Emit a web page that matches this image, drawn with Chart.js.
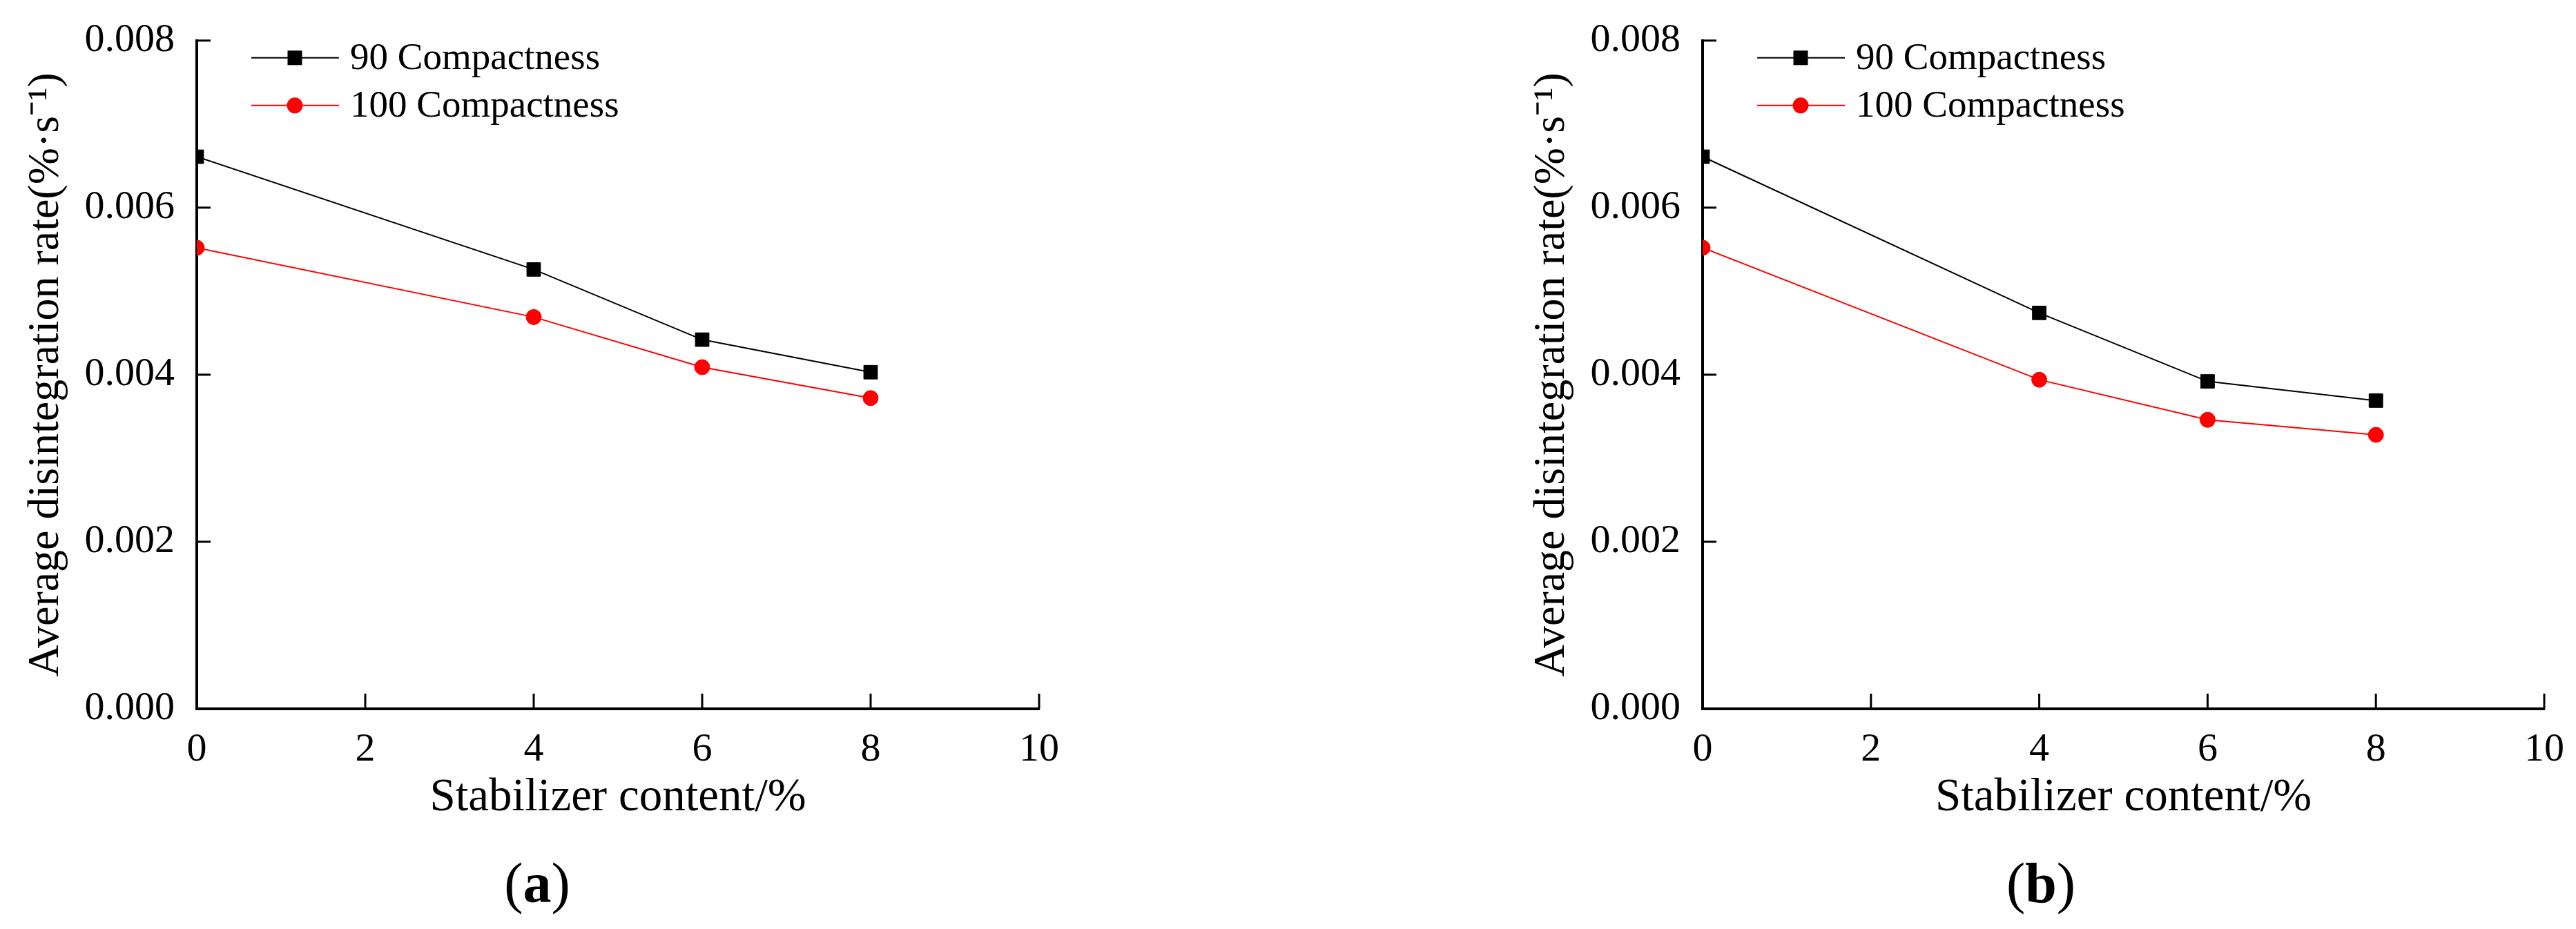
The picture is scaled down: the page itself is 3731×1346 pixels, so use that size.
<!DOCTYPE html>
<html>
<head>
<meta charset="utf-8">
<script src="https://cdn.jsdelivr.net/npm/chart.js@4.4.0/dist/chart.umd.min.js"></script>
<style>
  html, body { margin: 0; padding: 0; background: #fff; }
  body { width: 3731px; height: 1346px; position: relative; overflow: hidden; }
  .panel { position: absolute; top: 0; }
  .tag {
    position: absolute; top: 1230px; font-family: "Liberation Serif", serif;
    font-size: 82px; line-height: 100px; color: #000; transform: translateX(-50%);
  }
</style>
</head>
<body>
<div class="panel" style="left:0px"><canvas id="chartA" width="1865" height="1346"></canvas></div>
<div class="panel" style="left:1865px"><canvas id="chartB" width="1866" height="1346"></canvas></div>
<div class="tag" style="left:778px">(<b>a</b>)</div>
<div class="tag" style="left:2956px">(<b>b</b>)</div>
<script>
// data
const content = [0, 4, 6, 8];
const a90 = [0.00661, 0.00526, 0.00442, 0.00403];
const a100 = [0.00552, 0.00469, 0.00409, 0.00372];
const b90 = [0.00661, 0.00474, 0.00392, 0.00369];
const b100 = [0.00552, 0.00394, 0.00346, 0.00328];
const xTicks = [0, 2, 4, 6, 8, 10];
const yTicks = [0, 0.002, 0.004, 0.006, 0.008];
const seriesNames = ["90 Compactness", "100 Compactness"];

const FONT = "Liberation Serif";

// inward tick marks
const tickPlugin = {
    id: 'inTicks',
    afterDraw(chart) {
        const ctx = chart.ctx;
        const area = chart.chartArea;
        ctx.save();
        ctx.strokeStyle = '#000';
        ctx.lineWidth = 3;
        chart.scales.x.ticks.forEach(t => {
            const px = chart.scales.x.getPixelForValue(t.value);
            ctx.beginPath();
            ctx.moveTo(px, area.bottom);
            ctx.lineTo(px, area.bottom - 22);
            ctx.stroke();
        });
        chart.scales.y.ticks.forEach(t => {
            const py = chart.scales.y.getPixelForValue(t.value);
            ctx.beginPath();
            ctx.moveTo(area.left, py);
            ctx.lineTo(area.left + 20, py);
            ctx.stroke();
        });
        ctx.restore();
    }
};

// legend inside the plot, top left
const legendPlugin = {
    id: 'innerLegend',
    afterDraw(chart) {
        const ctx = chart.ctx;
        const area = chart.chartArea;
        ctx.save();
        chart.data.datasets.forEach((ds, i) => {
            const y = area.top + 25 + i * 69;
            const x0 = area.left + 79, x1 = area.left + 206, xm = area.left + 142;
            ctx.strokeStyle = ds.borderColor;
            ctx.lineWidth = ds.borderWidth;
            ctx.beginPath();
            ctx.moveTo(x0, y);
            ctx.lineTo(x1, y);
            ctx.stroke();
            ctx.fillStyle = ds.pointBackgroundColor;
            if (ds.pointStyle === 'rect') {
                ctx.fillRect(xm - 10.5, y - 10.5, 21, 21);
            } else {
                ctx.beginPath();
                ctx.arc(xm, y, 11.5, 0, Math.PI * 2);
                ctx.fill();
            }
            ctx.fillStyle = '#000';
            ctx.font = "55px '" + FONT + "'";
            ctx.textBaseline = 'middle';
            ctx.textAlign = 'left';
            ctx.fillText(ds.label, area.left + 222, y + 2);
        });
        ctx.restore();
    }
};

function makeChart(id, s90, s100, padLeft, padRight) {
    const ctx = document.getElementById(id).getContext('2d');
    return new Chart(ctx, {
        type: 'line',
        data: {
            datasets: [{
                label: seriesNames[0],
                data: content.map((x, i) => ({ x: x, y: s90[i] })),
                borderColor: '#000',
                borderWidth: 2,
                pointStyle: 'rect',
                pointRadius: 14,
                pointBorderWidth: 1,
                pointBackgroundColor: '#000',
                pointBorderColor: '#000',
                tension: 0
            }, {
                label: seriesNames[1],
                data: content.map((x, i) => ({ x: x, y: s100[i] })),
                borderColor: '#ff0000',
                borderWidth: 2,
                pointStyle: 'circle',
                pointRadius: 11,
                pointBorderWidth: 1,
                pointBackgroundColor: '#ff0000',
                pointBorderColor: '#ff0000',
                tension: 0
            }]
        },
        options: {
            responsive: false,
            animation: false,
            devicePixelRatio: 1,
            layout: { padding: { left: padLeft, right: padRight, top: 52, bottom: 149 } },
            plugins: { legend: { display: false }, tooltip: { enabled: false } },
            scales: {
                x: {
                    type: 'linear',
                    min: 0,
                    max: 10,
                    afterBuildTicks: s => { s.ticks = xTicks.map(v => ({ value: v })); },
                    afterFit: s => { s.height = 170; },
                    grid: { display: false },
                    border: { display: true, color: '#000', width: 4 },
                    ticks: {
                        color: '#000',
                        padding: 17,
                        maxRotation: 0,
                        font: { family: FONT, size: 58 },
                        callback: v => String(v)
                    },
                    title: {
                        display: true,
                        text: 'Stabilizer content/%',
                        color: '#000',
                        padding: 0,
                        font: { family: FONT, size: 67, lineHeight: 1.2 }
                    }
                },
                y: {
                    type: 'linear',
                    min: 0,
                    max: 0.008,
                    afterBuildTicks: s => { s.ticks = yTicks.map(v => ({ value: v })); },
                    afterFit: s => { s.width = 285; },
                    grid: { display: false },
                    border: { display: true, color: '#000', width: 4 },
                    ticks: {
                        color: '#000',
                        padding: 24,
                        font: { family: FONT, size: 58 },
                        callback: v => Number(v).toFixed(3)
                    },
                    title: {
                        display: true,
                        text: 'Average disintegration rate(%·s\u207B\u00B9)',
                        color: '#000',
                        padding: { top: 29, bottom: 0 },
                        font: { family: FONT, size: 64, lineHeight: 1.2 }
                    }
                }
            }
        },
        plugins: [tickPlugin, legendPlugin]
    });
}

makeChart('chartA', a90, a100, 0, 360);
makeChart('chartB', b90, b100, 316, 45);
</script>
</body>
</html>
